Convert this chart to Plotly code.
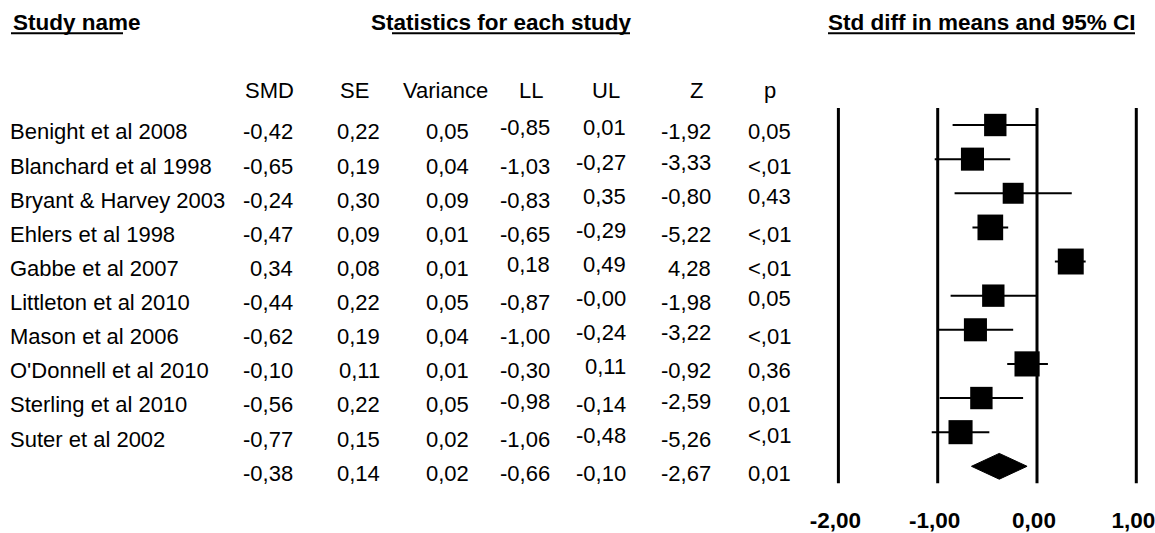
import plotly.graph_objects as go

# ---- data -------------------------------------------------------------
studies = ["Benight et al 2008", "Blanchard et al 1998", "Bryant & Harvey 2003",
           "Ehlers et al 1998", "Gabbe et al 2007", "Littleton et al 2010",
           "Mason et al 2006", "O'Donnell et al 2010", "Sterling et al 2010",
           "Suter et al 2002"]
smd = [-0.42, -0.65, -0.24, -0.47, 0.34, -0.44, -0.62, -0.10, -0.56, -0.77]
se = [0.22, 0.19, 0.30, 0.09, 0.08, 0.22, 0.19, 0.11, 0.22, 0.15]
variance = [0.05, 0.04, 0.09, 0.01, 0.01, 0.05, 0.04, 0.01, 0.05, 0.02]
lower = [-0.85, -1.03, -0.83, -0.65, 0.18, -0.87, -1.00, -0.30, -0.98, -1.06]
upper = [0.01, -0.27, 0.35, -0.29, 0.49, -0.00, -0.24, 0.11, -0.14, -0.48]
zval = [-1.92, -3.33, -0.80, -5.22, 4.28, -1.98, -3.22, -0.92, -2.59, -5.26]
pval = ["0,05", "<,01", "0,43", "<,01", "<,01", "0,05", "<,01", "0,36", "0,01", "<,01"]

# pooled estimate
pooled_smd = -0.38
pooled_se = 0.14
pooled_var = 0.02
pooled_lower = -0.66
pooled_upper = -0.10
pooled_z = -2.67
pooled_p = "0,01"

axis_ticks = [-2, -1, 0, 1]
axis_ticklabels = ["-2,00", "-1,00", "0,00", "1,00"]

# ---- layout constants -------------------------------------------------
W, H = 1155, 533
BOTTOM = 25                      # room under the plot area for tick labels
PLOT_H = H - BOTTOM
ROW0_PX, ROW_PX = 126.0, 34.4    # pixel centre of first row, row pitch
X0_PX, UNIT_PX = 1037.0, 99.3    # pixel of SMD = 0, pixels per unit
FONT = "Liberation Sans, Arial, Helvetica, sans-serif"
FS = 22
FS_BOLD = 22.5

# cells (row, column) that the table typesets slightly raised
RAISED = {(0, 3), (0, 4), (1, 4), (1, 5), (2, 4), (2, 5), (2, 6), (3, 4),
          (4, 3), (4, 4), (5, 4), (5, 6), (6, 4), (6, 5), (7, 4),
          (8, 3), (8, 5), (9, 4), (9, 6)}
RAISE_PX = 4


def row_of(py):
    return (py - ROW0_PX) / ROW_PX


def fmt(v):
    return f"{v:.2f}".replace(".", ",")


x_range = [(0 - X0_PX) / UNIT_PX, (W - X0_PX) / UNIT_PX]
y_range = [row_of(PLOT_H), row_of(0)]

n = len(studies)
rows = list(range(n))
pooled_row = n

fig = go.Figure()

# confidence interval whiskers
ci_x, ci_y = [], []
for r, lo, hi in zip(rows, lower, upper):
    ci_x += [lo, hi, None]
    ci_y += [r, r, None]
fig.add_trace(go.Scatter(x=ci_x, y=ci_y, mode="lines",
                         line=dict(color="black", width=2),
                         hoverinfo="skip", showlegend=False))

# study squares, sized by random-effects weight
tau2 = 0.05
weights = [1.0 / (s * s + tau2) for s in se]
sizes = [17.6 + 0.47 * w for w in weights]
fig.add_trace(go.Scatter(x=smd, y=rows, mode="markers",
                         marker=dict(symbol="square", color="black", size=sizes,
                                     opacity=1, line=dict(width=0)),
                         hoverinfo="skip", showlegend=False))

# pooled diamond
half_h = 13.0 / ROW_PX
fig.add_trace(go.Scatter(
    x=[pooled_lower, pooled_smd, pooled_upper, pooled_smd, pooled_lower],
    y=[pooled_row, pooled_row - half_h, pooled_row, pooled_row + half_h, pooled_row],
    mode="lines", fill="toself", fillcolor="black",
    line=dict(color="black", width=1), hoverinfo="skip", showlegend=False))

shapes = []
# reference lines
for t in axis_ticks:
    shapes.append(dict(type="line", xref="x", yref="y", x0=t, x1=t,
                       y0=-0.5, y1=n + 0.5, layer="below",
                       line=dict(color="black", width=3)))

annotations = []


def text(px, row, s, anchor="right", bold=False, size=FS, dy=0.0):
    annotations.append(dict(
        x=px / W, xref="paper", y=row + dy / ROW_PX, yref="y",
        text=f"<b>{s}</b>" if bold else s, showarrow=False,
        xanchor=anchor, yanchor="middle",
        font=dict(family=FONT, size=size, color="black")))


# section headers with underlines
HEAD_ROW = row_of(23)
text(11, HEAD_ROW, "Study name", anchor="left", bold=True, size=FS_BOLD)
text(501, HEAD_ROW, "Statistics for each study", anchor="center", bold=True, size=FS_BOLD)
text(981.5, HEAD_ROW, "Std diff in means and 95% CI", anchor="center", bold=True, size=FS_BOLD)
UL_ROW = row_of(33.5)
for a, b in [(11, 123), (392, 630), (828, 1135)]:
    shapes.append(dict(type="line", xref="paper", yref="y",
                       x0=a / W, x1=b / W, y0=UL_ROW, y1=UL_ROW,
                       line=dict(color="black", width=2)))

# column headers
COL_ROW = row_of(91)
col_heads = [("SMD", 269), ("SE", 354), ("Variance", 445), ("LL", 531),
             ("UL", 606), ("Z", 696), ("p", 770)]
for label, cx in col_heads:
    text(cx, COL_ROW, label, anchor="center")

# table body (right-aligned numeric columns)
col_right = [295, 382, 471, 552, 628, 713, 793]
TEXT_DY = 7
for r in rows:
    text(8, r, studies[r], anchor="left", dy=TEXT_DY)
    cells = [fmt(smd[r]), fmt(se[r]), fmt(variance[r]), fmt(lower[r]),
             fmt(upper[r]), fmt(zval[r]), pval[r]]
    for c, (cx, s) in enumerate(zip(col_right, cells)):
        dy = TEXT_DY - (RAISE_PX if (r, c) in RAISED else 0)
        text(cx, r, s, dy=dy)

pooled_cells = [fmt(pooled_smd), fmt(pooled_se), fmt(pooled_var),
                fmt(pooled_lower), fmt(pooled_upper), fmt(pooled_z), pooled_p]
for cx, s in zip(col_right, pooled_cells):
    text(cx, pooled_row, s, dy=TEXT_DY)

fig.update_layout(
    width=W, height=H,
    margin=dict(l=0, r=0, t=0, b=BOTTOM, pad=0),
    paper_bgcolor="white", plot_bgcolor="white",
    shapes=shapes, annotations=annotations,
    xaxis=dict(range=x_range, showgrid=False, zeroline=False, showline=False,
               tickmode="array", tickvals=axis_ticks,
               ticktext=[f"<b>{s}</b>" for s in axis_ticklabels],
               ticks="", ticklabeloverflow="allow", ticklabelshift=-3,
               tickfont=dict(family=FONT, size=FS_BOLD, color="black"),
               fixedrange=True),
    yaxis=dict(range=y_range, showgrid=False, zeroline=False, showline=False,
               showticklabels=False, ticks="", fixedrange=True),
    showlegend=False,
)

fig.write_html("out.html", config={"displayModeBar": False})
